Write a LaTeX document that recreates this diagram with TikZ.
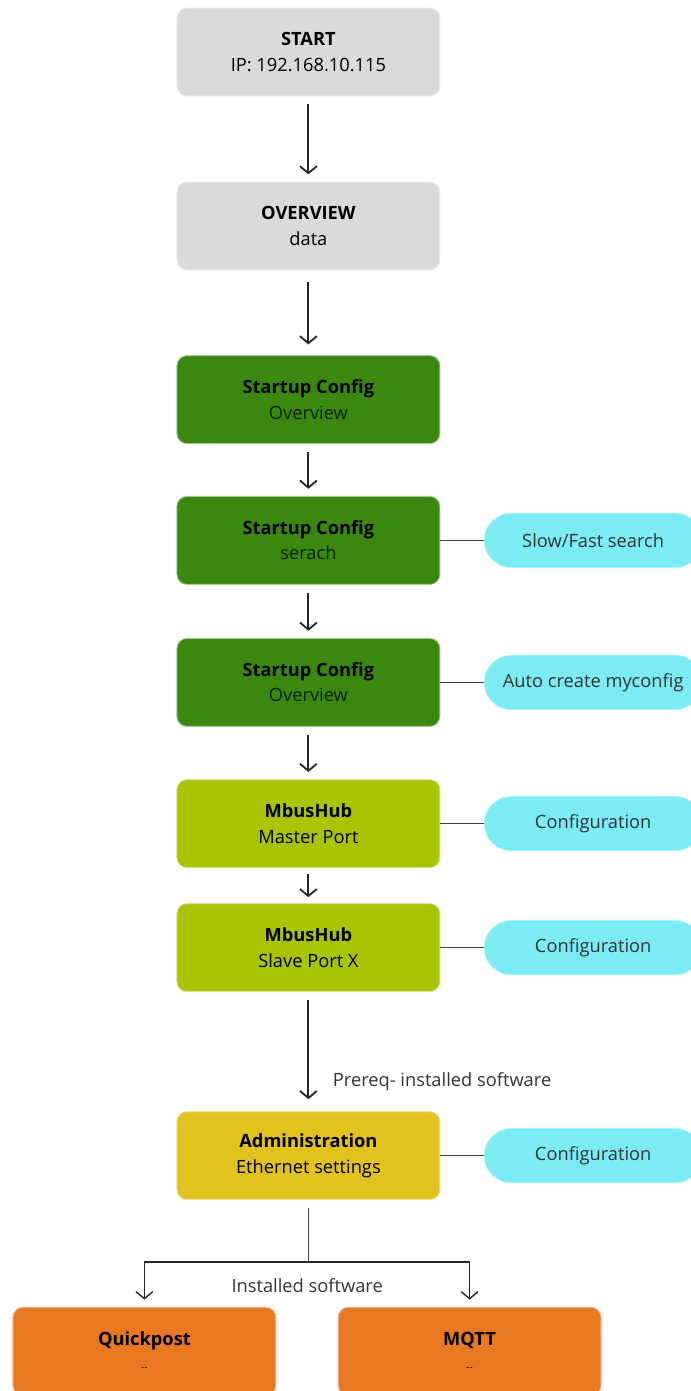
\documentclass[tikz,border=0pt]{standalone}
\usepackage{fontspec}
\setmainfont{Open Sans}
\usepackage{tikz}
\usetikzlibrary{positioning, arrows.meta, calc}

\definecolor{boxgray}{RGB}{218,218,218}
\definecolor{darkgreen}{RGB}{58,136,16}
\definecolor{limegreen}{RGB}{168,196,2}
\definecolor{mustard}{RGB}{226,194,30}
\definecolor{pumpkin}{RGB}{232,120,34}
\definecolor{lightcyan}{RGB}{124,236,244}

\begin{document}
\begin{tikzpicture}[>={Straight Barb[length=5pt,width=12pt]},
    every node/.style={align=center, font=\fontsize{13}{15}\selectfont},
    stage/.style={draw=white!55!#1, line width=0.6pt, fill=#1, rounded corners=0.25cm,
        minimum width=6.575cm, minimum height=2.2cm},
    extra/.style={draw=white!40!lightcyan, line width=0.6pt, fill=lightcyan, rounded corners=0.68cm,
        minimum width=5.45cm, minimum height=1.36cm, text=black!80},
    flow/.style={->, line width=1.3pt, black!85, shorten <=0.2cm, shorten >=0.18cm},
    link/.style={line width=0.7pt, black!75}]
    % page frame
    \useasboundingbox (0,0) rectangle (17.275,-34.775);
    % main column
    \node[stage=boxgray] (start) at (7.71,-1.30)
        {\textbf{START}\\[3pt] IP: 192.168.10.115};
    \node[stage=boxgray] (overview) at (7.71,-5.65)
        {\textbf{OVERVIEW}\\[3pt] data};
    \node[stage=darkgreen] (cfgoverview) at (7.71,-9.99)
        {\textbf{Startup Config}\\[3pt] \textcolor{black!75!darkgreen}{Overview}};
    \node[stage=darkgreen] (cfgsearch) at (7.71,-13.51)
        {\textbf{Startup Config}\\[3pt] \textcolor{black!75!darkgreen}{serach}};
    \node[stage=darkgreen] (cfgcreate) at (7.71,-17.06)
        {\textbf{Startup Config}\\[3pt] \textcolor{black!75!darkgreen}{Overview}};
    \node[stage=limegreen] (master) at (7.71,-20.59)
        {\textbf{MbusHub}\\[3pt] Master Port};
    \node[stage=limegreen] (slave) at (7.71,-23.69)
        {\textbf{MbusHub}\\[3pt] Slave Port X};
    \node[stage=mustard] (admin) at (7.71,-28.89)
        {\textbf{Administration}\\[3pt] Ethernet settings};
    % installed software
    \node[stage=pumpkin] (quickpost) at (3.61,-33.78)
        {\textbf{Quickpost}\\[3pt] {\scriptsize -{}-}};
    \node[stage=pumpkin] (mqtt) at (11.74,-33.78)
        {\textbf{MQTT}\\[3pt] {\scriptsize -{}-}};
    % side notes
    \node[extra] (search) at (14.83,-13.51) {Slow/Fast search};
    \node[extra] (myconfig) at (14.83,-17.06) {Auto create myconfig};
    \node[extra] (masterconf) at (14.83,-20.59) {Configuration};
    \node[extra] (slaveconf) at (14.83,-23.69) {Configuration};
    \node[extra] (adminconf) at (14.83,-28.89) {Configuration};
    % arrows down the column
    \draw[flow] (start) -- (overview);
    \draw[flow, shorten <=0.3cm, shorten >=0.27cm] (overview) -- (cfgoverview);
    \draw[flow] (cfgoverview) -- (cfgsearch);
    \draw[flow] (cfgsearch) -- (cfgcreate);
    \draw[flow] (cfgcreate) -- (master);
    \draw[flow, shorten <=0.15cm, shorten >=0.15cm] (master) -- (slave);
    \draw[flow, shorten >=0.3cm] (slave) -- (admin);
    \node[anchor=west, text=black!80] (prereq) at (8.2,-27.05) {Prereq- installed software};
    % links to side notes
    \draw[link] (cfgsearch) -- (search);
    \draw[link] (cfgcreate) -- (myconfig);
    \draw[link] (master) -- (masterconf);
    \draw[link] (slave) -- (slaveconf);
    \draw[link] (admin) -- (adminconf);
    % split to installed software
    \coordinate (split) at (7.71,-31.55);
    \draw[link] ([yshift=-0.2cm]admin.south) -- (split);
    \draw[flow, line width=1pt, shorten <=0pt] (split) -| (quickpost);
    \draw[flow, line width=1pt, shorten <=0pt] (split) -| (mqtt);
    \node[text=black!80] (installed) at (7.68,-32.15) {Installed software};
\end{tikzpicture}
\end{document}
